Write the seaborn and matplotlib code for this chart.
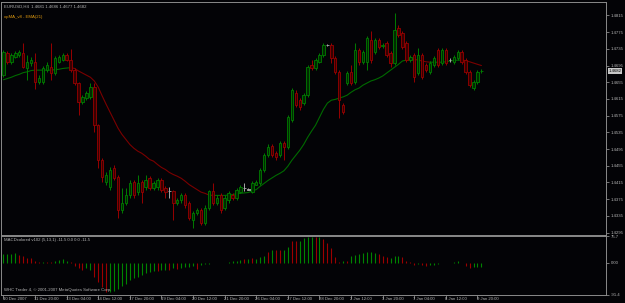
import numpy as np
import pandas as pd
import matplotlib
matplotlib.use("Agg")
import matplotlib.pyplot as plt
import seaborn as sns
from matplotlib.transforms import blended_transform_factory

# ---------------- data (EURUSD H4, prices in pips = 1/10000) ----------------
open_pips = [14672, 14725, 14703, 14715, 14720, 14725, 14689, 14701, 14703, 14655,
             14655, 14684, 14691, 14677, 14703, 14708, 14720, 14708, 14684, 14653,
             14607, 14617, 14619, 14643, 14552, 14468, 14415, 14403, 14449, 14427,
             14348, 14365, 14384, 14415, 14391, 14415, 14403, 14425, 14401, 14403,
             14420, 14401, 14394, 14394, 14365, 14372, 14384, 14365, 14324, 14341,
             14348, 14319, 14355, 14394, 14365, 14384, 14353, 14372, 14384, 14377,
             14391, 14401, 14398, 14391, 14410, 14413, 14444, 14480, 14502, 14485,
             14480, 14509, 14499, 14564, 14629, 14612, 14605, 14624, 14696, 14689,
             14703, 14720, 14744, 14744, 14713, 14679, 14600, 14653, 14679, 14655,
             14732, 14703, 14703, 14756, 14727, 14756, 14742, 14749, 14725, 14701,
             14785, 14773, 14749, 14708, 14720, 14677, 14720, 14696, 14679, 14696,
             14732, 14701, 14732, 14708, 14703, 14713, 14727, 14708, 14679, 14641,
             14655, 14681]
high_pips = [14732, 14730, 14725, 14730, 14732, 14749, 14720, 14715, 14725, 14672,
             14694, 14703, 14749, 14718, 14720, 14725, 14725, 14734, 14689, 14655,
             14624, 14634, 14653, 14653, 14554, 14473, 14439, 14451, 14456, 14432,
             14401, 14401, 14420, 14420, 14432, 14420, 14432, 14430, 14418, 14425,
             14425, 14406, 14403, 14398, 14379, 14389, 14389, 14370, 14346, 14353,
             14353, 14360, 14398, 14413, 14384, 14389, 14384, 14394, 14389, 14401,
             14410, 14413, 14401, 14418, 14420, 14449, 14485, 14506, 14506, 14490,
             14514, 14514, 14576, 14641, 14636, 14617, 14629, 14696, 14708, 14713,
             14725, 14749, 14746, 14749, 14718, 14684, 14605, 14682, 14696, 14749,
             14737, 14732, 14766, 14778, 14761, 14761, 14749, 14754, 14730, 14821,
             14792, 14778, 14754, 14720, 14725, 14737, 14725, 14701, 14706, 14718,
             14737, 14737, 14737, 14713, 14720, 14732, 14732, 14713, 14684, 14660,
             14684, 14686]
low_pips = [14667, 14698, 14698, 14713, 14715, 14689, 14660, 14694, 14638, 14650,
            14650, 14679, 14660, 14672, 14701, 14706, 14706, 14679, 14648, 14576,
            14602, 14612, 14614, 14535, 14449, 14415, 14408, 14398, 14420, 14331,
            14343, 14360, 14379, 14379, 14386, 14367, 14398, 14396, 14396, 14398,
            14391, 14377, 14379, 14324, 14360, 14367, 14355, 14324, 14307, 14336,
            14312, 14314, 14350, 14360, 14360, 14343, 14348, 14367, 14372, 14372,
            14389, 14394, 14396, 14389, 14408, 14408, 14439, 14475, 14475, 14468,
            14475, 14470, 14494, 14559, 14595, 14588, 14600, 14619, 14684, 14684,
            14701, 14715, 14742, 14701, 14674, 14569, 14578, 14648, 14648, 14650,
            14696, 14698, 14684, 14701, 14722, 14734, 14737, 14715, 14691, 14696,
            14763, 14734, 14703, 14703, 14655, 14672, 14662, 14679, 14674, 14691,
            14691, 14696, 14696, 14703, 14698, 14708, 14698, 14674, 14643, 14636,
            14650, 14677]
close_pips = [14727, 14703, 14720, 14725, 14727, 14691, 14703, 14708, 14655, 14665,
              14689, 14696, 14677, 14713, 14715, 14720, 14708, 14684, 14653, 14607,
              14619, 14629, 14643, 14552, 14468, 14427, 14432, 14444, 14425, 14348,
              14367, 14384, 14413, 14384, 14413, 14391, 14420, 14401, 14413, 14420,
              14396, 14391, 14394, 14365, 14374, 14384, 14360, 14329, 14341, 14348,
              14317, 14355, 14394, 14365, 14379, 14348, 14379, 14389, 14377, 14396,
              14403, 14401, 14398, 14413, 14415, 14444, 14480, 14499, 14480, 14475,
              14509, 14499, 14571, 14636, 14600, 14595, 14624, 14691, 14689, 14708,
              14720, 14744, 14744, 14713, 14679, 14612, 14583, 14677, 14653, 14732,
              14703, 14727, 14761, 14708, 14756, 14739, 14744, 14720, 14701, 14780,
              14768, 14739, 14708, 14715, 14667, 14720, 14667, 14684, 14701, 14713,
              14696, 14732, 14701, 14708, 14715, 14727, 14703, 14679, 14648, 14655,
              14679, 14682]
ema21_pips = [14661, 14664, 14667, 14671, 14674, 14678, 14680, 14683, 14684, 14684,
              14684, 14684, 14684, 14685, 14686, 14688, 14689, 14690, 14688, 14682,
              14677, 14672, 14667, 14658, 14643, 14622, 14602, 14583, 14564, 14545,
              14530, 14518, 14506, 14497, 14490, 14485, 14478, 14470, 14466, 14458,
              14451, 14446, 14439, 14434, 14430, 14425, 14418, 14410, 14404, 14398,
              14392, 14389, 14385, 14384, 14384, 14384, 14384, 14385, 14386, 14388,
              14389, 14390, 14391, 14395, 14398, 14406, 14413, 14420, 14426, 14432,
              14437, 14443, 14454, 14468, 14480, 14492, 14506, 14523, 14538, 14552,
              14571, 14590, 14605, 14612, 14614, 14617, 14620, 14624, 14631, 14637,
              14641, 14648, 14653, 14658, 14661, 14665, 14670, 14677, 14684, 14691,
              14698, 14706, 14708, 14709, 14710, 14708, 14706, 14704, 14703, 14703,
              14703, 14703, 14704, 14706, 14707, 14708, 14708, 14707, 14704, 14701,
              14698, 14695]
macd_values = [25, 25, 25, 27, 22, 18, 12, 12, 3, 2,
               2, 1, 1, 5, 7, 10, 5, 2, -10, -15,
               -20, -15, -20, -40, -55, -70, -85, -85, -80, -75,
               -68, -60, -50, -45, -40, -35, -30, -28, -25, -25,
               -22, -20, -20, -17, -18, -15, -13, -12, -10, -18,
               -8, -5, -3, -2, -1, 0, 0, 2, 3, 4,
               7, 10, 10, 12, 10, 15, 20, 30, 35, 35,
               35, 35, 45, 60, 60, 60, 70, 72, 72, 72,
               72, 68, 55, 40, 15, 2, 5, 5, 18, 22,
               25, 28, 30, 30, 28, 25, 20, 15, 12, 20,
               18, 15, 5, 2, -7, -5, -7, -10, -8, -7,
               -5, 0, 0, 0, 2, 3, 0, -10, -15, -12,
               -12, -11.5]
macd_colour = list("ggggrrrrrr" "grrggggrrr" "rggrrrrggg" "gggggggggr"
                   "ggrgrggggr" "gggggggggg" "grgrgggrgr" "rggrrggggr"
                   "grrrrrgrgg" "gggggrrrgg" "grrrrgrrgg" "ggggggrrrg" "gg")
price_ticks = [1.4815, 1.4775, 1.4735, 1.4695, 1.4655, 1.4615, 1.4575, 1.4535,
               1.4495, 1.4455, 1.4415, 1.4375, 1.4335, 1.4295]
time_labels = ["10 Dec 2007", "11 Dec 20:00", "13 Dec 04:00", "14 Dec 12:00",
               "17 Dec 20:00", "19 Dec 04:00", "20 Dec 12:00", "21 Dec 20:00",
               "26 Dec 04:00", "27 Dec 12:00", "28 Dec 20:00", "2 Jan 12:00",
               "3 Jan 20:00", "7 Jan 04:00", "8 Jan 12:00", "9 Jan 20:00"]
time_label_bars = [0, 8, 16, 24, 32, 40, 48, 56, 64, 72, 80, 88, 96, 104, 112, 120]
macd_ticks = [75.7, 0.0, -91.4]
macd_tick_labels = ["75.7", "0.00", "-91.4"]

# ---------------- style ----------------
sns.set_theme(style="dark")
BG = "#030306"
FRAME = "#8a8a8a"
TXT = "#b4b4b4"
GREEN = "#007c00"
RED = "#980000"
GREEN_FACE = "#002a00"
RED_FACE = "#380000"
plt.rcParams["font.family"] = ["Liberation Sans", "DejaVu Sans"]
FS = 3.1

W, H = 625, 303
fig = plt.figure(figsize=(W / 100, H / 100), dpi=100, facecolor=BG)

def frac_x(px):
    return px / W

def frac_y(py):
    return 1 - py / H

ax = fig.add_axes([frac_x(1.5), frac_y(234.5), frac_x(606) - frac_x(1.5), frac_y(1.5) - frac_y(234.5)])
ax2 = fig.add_axes([frac_x(1.5), frac_y(294.5), frac_x(606) - frac_x(1.5), frac_y(236) - frac_y(294.5)])

o = np.array(open_pips) / 1e4
h = np.array(high_pips) / 1e4
l = np.array(low_pips) / 1e4
c = np.array(close_pips) / 1e4
ema = np.array(ema21_pips) / 1e4
n = len(o)
idx = np.arange(n)

for a in (ax, ax2):
    a.set_facecolor(BG)
    for s in a.spines.values():
        s.set_color(FRAME)
        s.set_linewidth(0.7)
    a.grid(False)

# candles
edge = np.where(c > o, GREEN, np.where(c < o, RED, "#a8a8a8"))
face = np.where(c > o, GREEN_FACE, np.where(c < o, RED_FACE, "#a8a8a8"))
ax.vlines(idx, l, h, colors=edge, linewidth=0.7, zorder=2)
body_low = np.minimum(o, c)
body_h = np.maximum(np.abs(c - o), 0.00003)
ax.bar(idx, body_h, bottom=body_low, width=0.62, color=face, edgecolor=edge,
       linewidth=0.6, zorder=3)

# EMA(21) coloured by slope
runs = []
run_id = 0
prev_up = None
for i in range(1, n):
    up = ema[i] >= ema[i - 1]
    if prev_up is not None and up != prev_up:
        run_id += 1
    runs.append((run_id, i - 1, ema[i - 1], "g" if up else "r"))
    runs.append((run_id, i, ema[i], "g" if up else "r"))
    prev_up = up
ma_df = pd.DataFrame(runs, columns=["run", "bar", "ema", "dir"])
pal = {}
for rid, grp in ma_df.groupby("run"):
    pal[str(rid)] = "#006a00" if grp["dir"].iloc[0] == "g" else "#7a0000"
ma_df["run"] = ma_df["run"].astype(str)
sns.lineplot(data=ma_df, x="bar", y="ema", hue="run", palette=pal, estimator=None,
             sort=False, legend=False, linewidth=0.8, ax=ax, zorder=1)

ax.set_xlim(-0.5, -0.5 + 604.5 / 3.95)
ax.set_ylim(1.42904, 1.48484)
ax.set_xlabel("")
ax.set_ylabel("")
ax.set_xticks([])
ax.yaxis.tick_right()
ax.set_yticks(price_ticks)
ax.set_yticklabels([f"{t:.4f}" for t in price_ticks])
ax.tick_params(axis="y", colors=FRAME, labelcolor=TXT, labelsize=FS, length=2,
               width=0.6, pad=1.2, direction="out")

# current price box
tr = blended_transform_factory(ax.transAxes, ax.transData)
ax.text(1.004, c[-1], f"{c[-1]:.4f}", transform=tr, ha="left", va="center",
        fontsize=FS, color="#000000",
        bbox=dict(boxstyle="square,pad=0.18", fc="#c8c8c8", ec="none"), zorder=5)

# header texts
ax.text(0.004, 0.978, "EURUSD,H4  1.4681 1.4686 1.4677 1.4682", transform=ax.transAxes,
        ha="left", va="center", fontsize=FS, color=TXT)
ax.text(0.004, 0.935, "xpMA_v8 - EMA(21)", transform=ax.transAxes,
        ha="left", va="center", fontsize=FS, color="#e09a10")

# MACD panel (thin histogram lines)
hist_cols = ["#008400" if d == "g" else "#9c0000" for d in macd_colour]
ax2.vlines(idx, 0, macd_values, colors=hist_cols, linewidth=0.8)
ax2.set_xlim(ax.get_xlim())
ax2.set_ylim(-91.4, 75.7)
ax2.set_xlabel("")
ax2.set_ylabel("")
ax2.yaxis.tick_right()
ax2.set_yticks(macd_ticks)
ax2.set_yticklabels(macd_tick_labels)
ax2.tick_params(axis="y", colors=FRAME, labelcolor=TXT, labelsize=FS, length=2,
                width=0.6, pad=1.2, direction="out")
ax2.set_xticks(time_label_bars)
ax2.set_xticklabels([])
ax2.tick_params(axis="x", colors=FRAME, length=3, width=0.6, direction="out", bottom=True)
trx = blended_transform_factory(ax2.transData, ax2.transAxes)
for b, lab in zip(time_label_bars, time_labels):
    ax2.text(b - 0.2, -0.085, lab, transform=trx, ha="left", va="center",
             fontsize=FS, color=TXT, clip_on=False)

ax2.text(0.004, 0.93, "MACDcolored v102 (5,13,1) -11.5 0.0 0.0 -11.5", transform=ax2.transAxes,
         ha="left", va="center", fontsize=FS, color=TXT)
ax2.text(0.004, 0.07, "WHC Trader 4, \u00a9 2001-2007 MetaQuotes Software Corp.",
         transform=ax2.transAxes, ha="left", va="center", fontsize=FS, color=TXT)

fig.savefig("out.png", dpi=100, facecolor=BG)
